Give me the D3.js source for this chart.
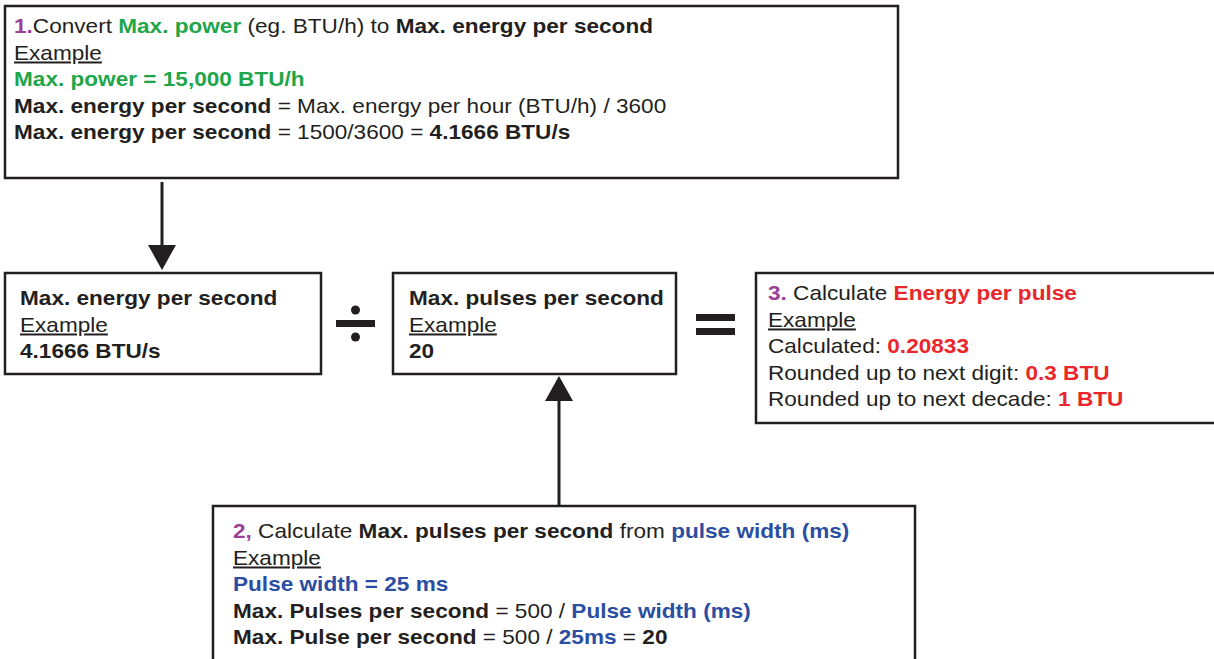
<!DOCTYPE html>
<html>
<head>
<meta charset="utf-8">
<script src="https://cdn.jsdelivr.net/npm/d3@7"></script>
<style>
  body { margin: 0; background: #fff; }
  svg text { font-family: "Liberation Sans", Arial, sans-serif; font-size: 20px; }
</style>
</head>
<body>
<svg id="chart" width="1214" height="659"></svg>
<script>
// colours used in the text runs
const colors = {
    k: '#231f20',
    p: '#9b3f99',
    g: '#1fa64a',
    r: '#e8262b',
    b: '#2b4ea2'
};

// each line is a list of [text, weight, colour, underline]
const step1Lines = [
    [['1.', 'b', 'p'], ['Convert ', 'n', 'k'], ['Max. power', 'b', 'g'], [' (eg. BTU/h) to ', 'n', 'k'], ['Max. energy per second', 'b', 'k']],
    [['Example', 'n', 'k', true]],
    [['Max. power = 15,000 BTU/h', 'b', 'g']],
    [['Max. energy per second', 'b', 'k'], [' = Max. energy per hour (BTU/h) / 3600', 'n', 'k']],
    [['Max. energy per second', 'b', 'k'], [' = 1500/3600 = ', 'n', 'k'], ['4.1666 BTU/s', 'b', 'k']]
];

const energyLines = [
    [['Max. energy per second', 'b', 'k']],
    [['Example', 'n', 'k', true]],
    [['4.1666 BTU/s', 'b', 'k']]
];

const pulsesLines = [
    [['Max. pulses per second', 'b', 'k']],
    [['Example', 'n', 'k', true]],
    [['20', 'b', 'k']]
];

const step3Lines = [
    [['3.', 'b', 'p'], [' Calculate ', 'n', 'k'], ['Energy per pulse', 'b', 'r']],
    [['Example', 'n', 'k', true]],
    [['Calculated: ', 'n', 'k'], ['0.20833', 'b', 'r']],
    [['Rounded up to next digit: ', 'n', 'k'], ['0.3 BTU', 'b', 'r']],
    [['Rounded up to next decade: ', 'n', 'k'], ['1 BTU', 'b', 'r']]
];

const step2Lines = [
    [['2,', 'b', 'p'], [' Calculate ', 'n', 'k'], ['Max. pulses per second', 'b', 'k'], [' from ', 'n', 'k'], ['pulse width (ms)', 'b', 'b']],
    [['Example', 'n', 'k', true]],
    [['Pulse width = 25 ms', 'b', 'b']],
    [['Max. Pulses per second', 'b', 'k'], [' = 500 / ', 'n', 'k'], ['Pulse width (ms)', 'b', 'b']],
    [['Max. Pulse per second', 'b', 'k'], [' = 500 / ', 'n', 'k'], ['25ms', 'b', 'b'], [' = ', 'n', 'k'], ['20', 'b', 'k']]
];

// box geometry: x0, y0, x1, y1, text x, first baseline
const boxes = [
    { lines: step1Lines,  x0: 5,   y0: 6,   x1: 898,  y1: 178, tx: 14,  ty: 33 },
    { lines: energyLines, x0: 5,   y0: 273, x1: 321,  y1: 374, tx: 20,  ty: 305 },
    { lines: pulsesLines, x0: 393, y0: 273, x1: 676,  y1: 374, tx: 409, ty: 305 },
    { lines: step3Lines,  x0: 756, y0: 273, x1: 1216, y1: 423, tx: 768, ty: 300 },
    { lines: step2Lines,  x0: 213, y0: 506, x1: 915,  y1: 680, tx: 233, ty: 538 }
];

const lineStep = 26.6;
const stretch = 1.13; // the source font is set wider than Arial
const ink = colors.k;

const svg = d3.select('#chart');

const box = svg.selectAll('g.box')
    .data(boxes)
    .enter()
    .append('g')
    .classed('box', true);

box.append('rect')
    .attr('x', d => d.x0)
    .attr('y', d => d.y0)
    .attr('width', d => d.x1 - d.x0)
    .attr('height', d => d.y1 - d.y0)
    .attr('fill', '#fff')
    .attr('stroke', ink)
    .attr('stroke-width', 2.5);

box.each(function (d) {
    const g = d3.select(this);
    d.lines.forEach((line, i) => {
        const t = g.append('text')
            .attr('transform', `translate(${d.tx},${d.ty + i * lineStep}) scale(${stretch},1)`)
            .attr('xml:space', 'preserve');
        line.forEach(([txt, w, c, u]) => {
            t.append('tspan')
                .text(txt)
                .attr('font-weight', w === 'b' ? 'bold' : 'normal')
                .attr('fill', colors[c])
                .attr('text-decoration', u ? 'underline' : null);
        });
    });
});

// arrows
const arrows = [
    { x: 162, from: 182, tip: 270, dir: 1 },
    { x: 559, from: 505, tip: 376, dir: -1 }
];

arrows.forEach(a => {
    const head = 25;
    svg.append('line')
        .attr('x1', a.x).attr('x2', a.x)
        .attr('y1', a.from).attr('y2', a.tip - a.dir * head)
        .attr('stroke', ink)
        .attr('stroke-width', 3);
    svg.append('path')
        .attr('d', d3.line()([
            [a.x - 14, a.tip - a.dir * head],
            [a.x + 14, a.tip - a.dir * head],
            [a.x, a.tip]
        ]) + 'Z')
        .attr('fill', ink);
});

// divide sign
svg.append('rect').attr('x', 336).attr('y', 320).attr('width', 39).attr('height', 7).attr('fill', ink);
svg.append('circle').attr('cx', 355.5).attr('cy', 310).attr('r', 4.5).attr('fill', ink);
svg.append('circle').attr('cx', 355.5).attr('cy', 337).attr('r', 4.5).attr('fill', ink);

// equals sign
svg.append('rect').attr('x', 696).attr('y', 314).attr('width', 39).attr('height', 7).attr('fill', ink);
svg.append('rect').attr('x', 696).attr('y', 328).attr('width', 39).attr('height', 7).attr('fill', ink);
</script>
</body>
</html>
